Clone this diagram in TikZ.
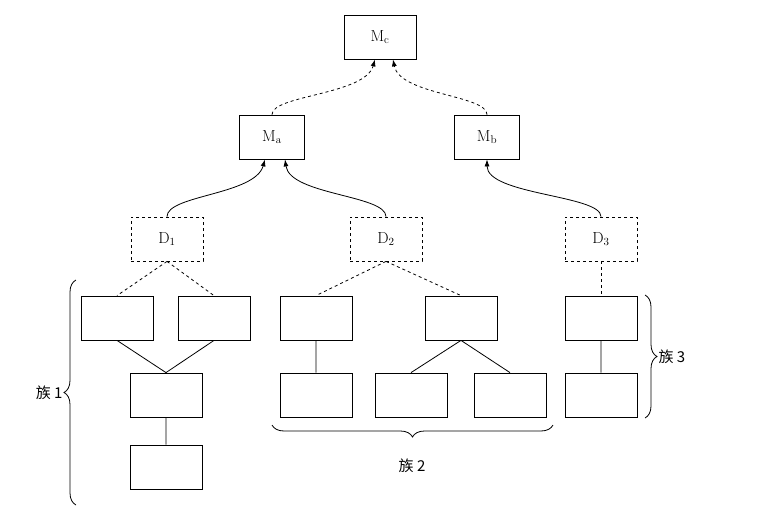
\documentclass[tikz,border=0pt]{standalone}
\usepackage{fontspec}
\newfontfamily\cjk{Noto Sans CJK SC}
\usetikzlibrary{decorations.pathreplacing,arrows.meta}
\begin{document}
\begin{tikzpicture}[x=1pt,y=-1pt,
 bx/.style={draw,thick,minimum width=72pt,minimum height=44pt,inner sep=0pt,font=\fontsize{16}{16}\selectfont},
 dbx/.style={bx,dashed},
 arr/.style={thick,-{Latex[length=7pt,width=5pt]}},
 br/.style={decorate,decoration={brace,amplitude=12pt},thick},
 lab/.style={font=\cjk\fontsize{15}{15}\selectfont}]
\useasboundingbox (0,0) rectangle (763,506);
\node[bx] (Mc) at (380,37) {M$_\mathrm{c}$};
\node[bx,minimum width=65pt] (Ma) at (272,137) {M$_\mathrm{a}$};
\node[bx,minimum width=65pt] (Mb) at (487,137) {M$_\mathrm{b}$};
\node[dbx] (D1) at (167,239) {D$_1$};
\node[dbx] (D2) at (386,239) {D$_2$};
\node[dbx] (D3) at (601,239) {D$_3$};
\node[bx] (A) at (117,318) {};
\node[bx] (B) at (214,318) {};
\node[bx] (C) at (316,318) {};
\node[bx] (D) at (461,318) {};
\node[bx] (E) at (601,318) {};
\node[bx] (F) at (166,395) {};
\node[bx] (G) at (316,395) {};
\node[bx] (H) at (411,395) {};
\node[bx] (I) at (510,395) {};
\node[bx] (J) at (601,395) {};
\node[bx] (K) at (166,467) {};
\draw[arr,dashed] (Ma.north) .. controls (272,95) and (365,95) .. ([xshift=-5pt]Mc.south);
\draw[arr,dashed] (Mb.north) .. controls (487,95) and (400,95) .. ([xshift=13pt]Mc.south);
\draw[arr] (D1.north) .. controls (167,195) and (255,195) .. ([xshift=-7pt]Ma.south);
\draw[arr] (D2.north) .. controls (386,195) and (290,195) .. ([xshift=13pt]Ma.south);
\draw[arr] (D3.north) .. controls (601,195) and (487,195) .. (Mb.south);
\draw[thick,dashed] (D1.south) -- (A.north) (D1.south) -- (B.north);
\draw[thick,dashed] (D2.south) -- (C.north) (D2.south) -- (D.north);
\draw[thick,dashed] (D3.south) -- (E.north);
\draw[thick] (A.south) -- (F.north) (B.south) -- (F.north) (F) -- (K);
\draw[thick] (C) -- (G) (D.south) -- (H.north) (D.south) -- (I.north) (E) -- (J);
\draw[br] (76,505) -- (76,280) coordinate[midway,xshift=-10pt] (b1);
\node[lab,anchor=east] (L1) at (b1) {族 1};
\draw[br] (553,425) -- (272,425);
\node[lab] (L2) at (412,466) {族 2};
\draw[br] (645,295) -- (645,418) coordinate[midway,xshift=10pt] (b3);
\node[lab,anchor=west] (L3) at (b3) {族 3};
\end{tikzpicture}
\end{document}
